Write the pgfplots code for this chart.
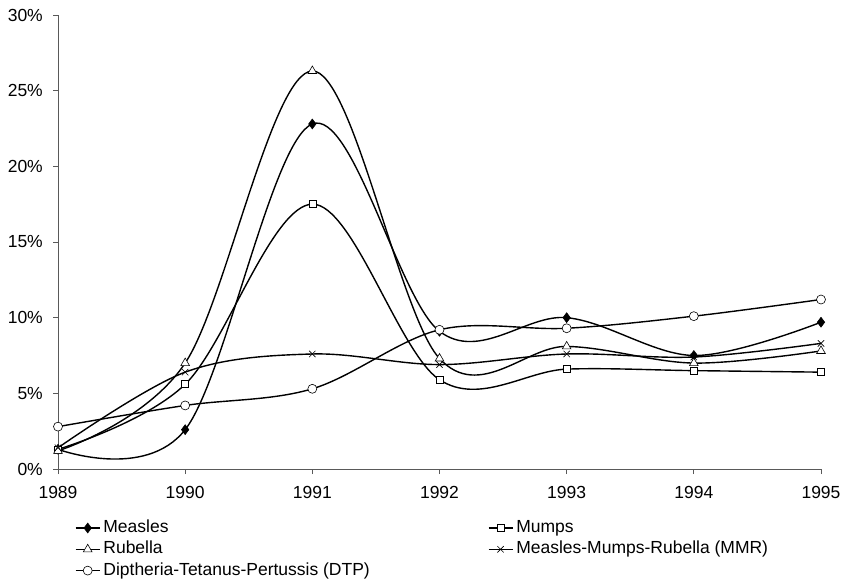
\documentclass[border=0pt]{standalone}
\usepackage{pgfplots}
\pgfplotsset{compat=1.18}
\usepackage{fontspec}
\setmainfont{Liberation Sans}
\begin{document}
\fontsize{17.5}{21}\selectfont
\begin{tikzpicture}
\useasboundingbox (-58pt,-115pt) rectangle (785pt,15pt+454pt);
\begin{axis}[
  at={(0,0)}, anchor=south west,
  scale only axis, width=763pt, height=454pt,
  xmin=1989, xmax=1995, ymin=0, ymax=30,
  axis lines=left, axis line style={-, draw=black!65, line width=0.9pt},
  tick align=outside, major tick length=5pt,
  tick style={draw=black!65, line width=0.9pt},
  xtick={1989,1990,1991,1992,1993,1994,1995},
  xticklabels={1989,1990,1991,1992,1993,1994,1995},
  ytick={0,5,10,15,20,25,30},
  yticklabels={0\%,5\%,10\%,15\%,20\%,25\%,30\%},
  yticklabel style={inner sep=0pt, xshift=-10pt},
  xticklabel style={inner sep=0pt, yshift=-12pt},
  every axis plot/.append style={black, line width=1.4pt, smooth, tension=0.57},
  legend columns=2,
  legend cell align=left,
  legend style={draw=none, fill=none, inner sep=0pt, outer sep=0pt,
    at={(axis description cs:0,0)}, anchor=north west, xshift=17pt, yshift=-51pt,
    row sep=5.3pt,
    nodes={inner sep=0pt, text height=12.5pt, text depth=3.5pt},
    /tikz/every odd column/.append style={column sep=3pt},
    /tikz/every even column/.append style={column sep=118pt}},
  legend image code/.code={\draw[mark repeat=2, mark phase=2, #1] plot coordinates {(0pt,0pt) (12pt,0pt) (24pt,0pt)};},
]
\addplot[mark=diamond*, mark size=5pt, mark options={fill=black, solid, line width=0.5pt}] coordinates {
(1989,1.3) (1990,2.6) (1991,22.8) (1992,9.1) (1993,10.0) (1994,7.5) (1995,9.7)};
\addlegendentry{Measles}
\addplot[mark=square*, mark size=3.5pt, mark options={fill=white, solid, line width=0.6pt}] coordinates {
(1989,1.3) (1990,5.6) (1991,17.5) (1992,5.9) (1993,6.6) (1994,6.5) (1995,6.4)};
\addlegendentry{Mumps}
\addplot[mark=triangle*, mark size=5pt, mark options={fill=white, solid, line width=0.6pt}] coordinates {
(1989,1.2) (1990,7.0) (1991,26.3) (1992,7.3) (1993,8.1) (1994,7.0) (1995,7.8)};
\addlegendentry{Rubella}
\addplot[mark=x, mark size=4.5pt, mark options={solid, line width=0.6pt}] coordinates {
(1989,1.4) (1990,6.4) (1991,7.6) (1992,6.9) (1993,7.6) (1994,7.4) (1995,8.3)};
\addlegendentry{Measles-Mumps-Rubella (MMR)}
\addplot[mark=*, mark size=4.5pt, mark options={fill=white, solid, line width=0.6pt}] coordinates {
(1989,2.8) (1990,4.2) (1991,5.3) (1992,9.2) (1993,9.3) (1994,10.1) (1995,11.2)};
\addlegendentry{Diptheria-Tetanus-Pertussis (DTP)}
\end{axis}
\end{tikzpicture}
\end{document}
